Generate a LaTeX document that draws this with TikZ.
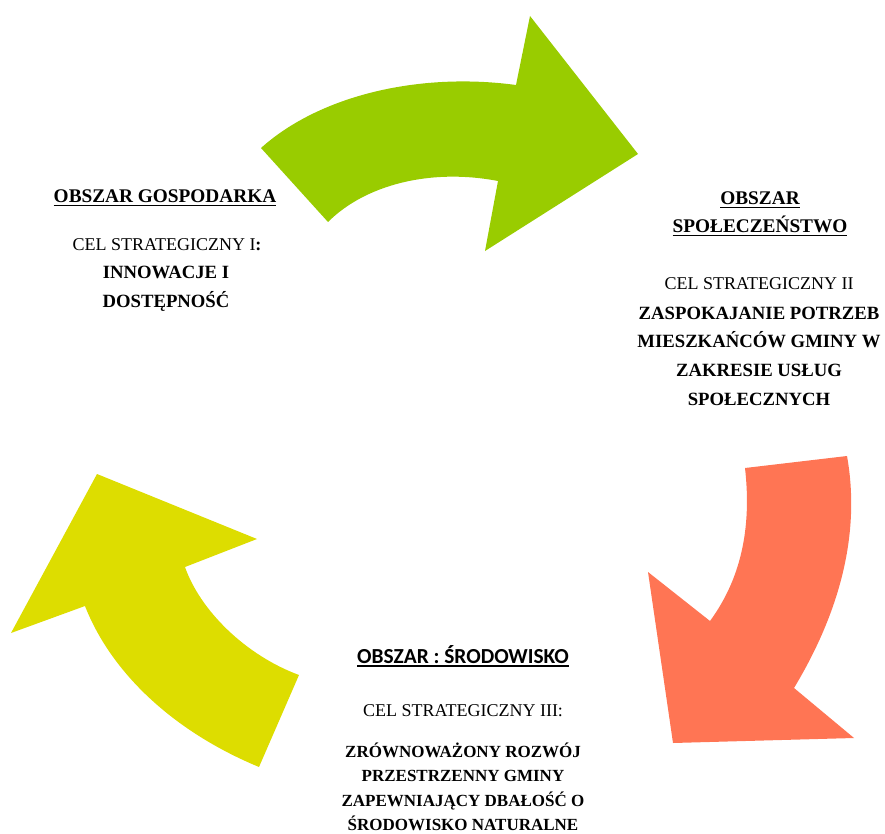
\documentclass[tikz,border=0pt]{standalone}
\usepackage{fontspec}
\setmainfont{Liberation Serif}
\newfontfamily\calibrifont{Carlito}
\usepackage{xcolor}

\definecolor{arrowgreen}{RGB}{153,204,0}
\definecolor{arroworange}{RGB}{255,117,84}
\definecolor{arrowyellow}{RGB}{221,221,0}

\newcommand{\obsline}[1]{\setbox0=\hbox{#1}\rlap{\rule[-3.5pt]{\wd0}{1.3pt}}\box0}

\begin{document}
\begin{tikzpicture}[
    x=1pt, y=-1pt,
    title/.style={align=center, font=\fontsize{19.3}{28}\selectfont\bfseries},
    cel/.style={align=center, font=\fontsize{18}{28.5}\selectfont},
    goal/.style={align=center, font=\fontsize{18.7}{28.7}\selectfont\bfseries}
]
    \useasboundingbox (0,0) rectangle (885,834);
    % arrows
    \fill[arrowgreen] (261,148) .. controls (320,95) and (420,72) .. (516,85) -- (530,16) -- (638,154) -- (485,251) -- (498,181) .. controls (430,168) and (365,185) .. (328,222) -- cycle;
    \fill[arroworange] (847,456) -- (745,468) .. controls (752,530) and (740,580) .. (710,621) -- (648,572) -- (673,743) -- (854,738) -- (794,688) .. controls (835,620) and (862,540) .. cycle;
    \fill[arrowyellow] (97,474) -- (257,539) -- (185,567) .. controls (200,610) and (245,655) .. (299,675) -- (259,767) .. controls (170,730) and (110,670) .. (85,606) -- (11,633) -- cycle;
    % texts
    \node[title] (gosTitle) at (165,198) {\obsline{OBSZAR GOSPODARKA}};
    \node[cel] (gosCel) at (167,245) {CEL STRATEGICZNY I\textbf{:}};
    \node[goal] (gosGoal) at (166,289) {INNOWACJE I\\DOSTĘPNOŚĆ};
    \node[title] (spoTitle) at (760,214) {\obsline{OBSZAR}\\\obsline{SPOŁECZEŃSTWO}};
    \node[cel] (spoCel) at (759,284) {CEL STRATEGICZNY II};
    \node[goal] (spoGoal) at (759,356) {ZASPOKAJANIE POTRZEB\\MIESZKAŃCÓW GMINY W\\ZAKRESIE USŁUG\\SPOŁECZNYCH};
    \node[title, font=\fontsize{21.4}{28}\selectfont\calibrifont\bfseries] (sroTitle) at (463,656) {\obsline{OBSZAR : ŚRODOWISKO}};
    \node[cel] (sroCel) at (463,711) {CEL STRATEGICZNY III:};
    \node[goal, font=\fontsize{17}{24.5}\selectfont\bfseries] (sroGoal) at (463,787) {ZRÓWNOWAŻONY ROZWÓJ\\PRZESTRZENNY GMINY\\ZAPEWNIAJĄCY DBAŁOŚĆ O\\ŚRODOWISKO NATURALNE};
\end{tikzpicture}
\end{document}
